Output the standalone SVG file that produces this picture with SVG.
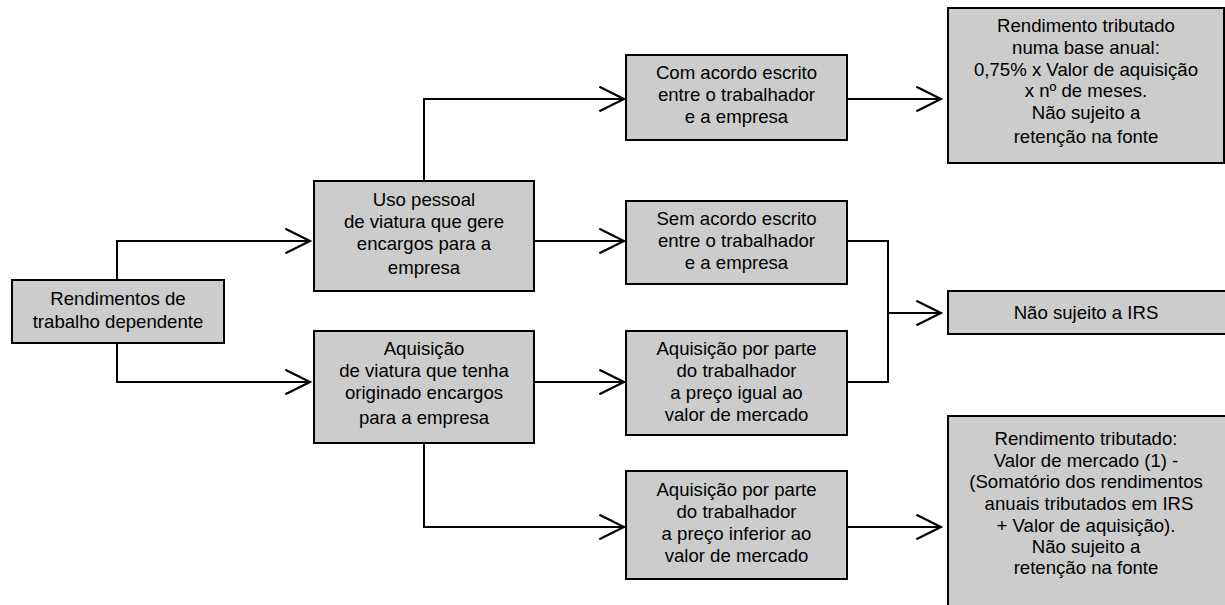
<svg xmlns="http://www.w3.org/2000/svg" width="1225" height="605" viewBox="0 0 1225 605">
<style>
.box{fill:#cccccc;stroke:#000;stroke-width:2}
.t{font-family:"Liberation Sans",Arial,sans-serif;font-size:18.6px;fill:#000;text-anchor:middle}
.c{fill:none;stroke:#000;stroke-width:2}
</style>
<defs>
<marker id="ah" markerUnits="userSpaceOnUse" markerWidth="30" markerHeight="30" viewBox="-26 -14 28 28" refX="0" refY="0" orient="auto" overflow="visible">
<path d="M-23,-11.5 L0,0 L-23,11.5" fill="none" stroke="#000" stroke-width="2"/>
</marker>
</defs>
<rect width="1225" height="605" fill="#fff"/>
<g id="connectors">
<path class="c" d="M117,280 V241 H310" marker-end="url(#ah)"/>
<path class="c" d="M117,343 V382 H310" marker-end="url(#ah)"/>
<path class="c" d="M424,181 V99 H624" marker-end="url(#ah)"/>
<path class="c" d="M534,241 H624" marker-end="url(#ah)"/>
<path class="c" d="M534,382 H624" marker-end="url(#ah)"/>
<path class="c" d="M424,443 V527 H624" marker-end="url(#ah)"/>
<path class="c" d="M847,99 H941" marker-end="url(#ah)"/>
<path class="c" d="M847,241 H888 V382 H847"/>
<path class="c" d="M888,313 H941" marker-end="url(#ah)"/>
<path class="c" d="M847,527 H941" marker-end="url(#ah)"/>
</g>
<g id="n-rendimentos">
<rect class="box" x="12" y="280" width="212" height="63"/>
<text class="t" x="118" y="305">Rendimentos de</text>
<text class="t" x="118" y="328">trabalho dependente</text>
</g>
<g id="n-uso">
<rect class="box" x="314" y="181" width="220" height="110"/>
<text class="t" x="424" y="206">Uso pessoal</text>
<text class="t" x="424" y="228">de viatura que gere</text>
<text class="t" x="424" y="250">encargos para a</text>
<text class="t" x="424" y="274">empresa</text>
</g>
<g id="n-aquisicao">
<rect class="box" x="314" y="331" width="220" height="112"/>
<text class="t" x="424" y="355">Aquisição</text>
<text class="t" x="424" y="377">de viatura que tenha</text>
<text class="t" x="424" y="399">originado encargos</text>
<text class="t" x="424" y="424">para a empresa</text>
</g>
<g id="n-com">
<rect class="box" x="626" y="55" width="221" height="85"/>
<text class="t" x="736.5" y="79">Com acordo escrito</text>
<text class="t" x="736.5" y="101">entre o trabalhador</text>
<text class="t" x="736.5" y="123">e a empresa</text>
</g>
<g id="n-sem">
<rect class="box" x="626" y="201" width="221" height="83"/>
<text class="t" x="736.5" y="225">Sem acordo escrito</text>
<text class="t" x="736.5" y="247">entre o trabalhador</text>
<text class="t" x="736.5" y="269">e a empresa</text>
</g>
<g id="n-igual">
<rect class="box" x="626" y="331" width="221" height="104"/>
<text class="t" x="736.5" y="355">Aquisição por parte</text>
<text class="t" x="736.5" y="377">do trabalhador</text>
<text class="t" x="736.5" y="399">a preço igual ao</text>
<text class="t" x="736.5" y="421">valor de mercado</text>
</g>
<g id="n-inferior">
<rect class="box" x="626" y="471" width="221" height="108"/>
<text class="t" x="736.5" y="496">Aquisição por parte</text>
<text class="t" x="736.5" y="518">do trabalhador</text>
<text class="t" x="736.5" y="540">a preço inferior ao</text>
<text class="t" x="736.5" y="562">valor de mercado</text>
</g>
<g id="n-tributado-anual">
<rect class="box" x="948" y="8" width="276" height="155"/>
<text class="t" x="1086" y="32">Rendimento tributado</text>
<text class="t" x="1086" y="54">numa base anual:</text>
<text class="t" x="1086" y="76">0,75% x Valor de aquisição</text>
<text class="t" x="1086" y="97">x nº de meses.</text>
<text class="t" x="1086" y="119">Não sujeito a</text>
<text class="t" x="1086" y="143">retenção na fonte</text>
</g>
<g id="n-nao-irs">
<rect class="box" x="948" y="291" width="278" height="43"/>
<text class="t" x="1086" y="319">Não sujeito a IRS</text>
</g>
<g id="n-tributado">
<rect class="box" x="948" y="416" width="280" height="195"/>
<text class="t" x="1086" y="445">Rendimento tributado:</text>
<text class="t" x="1086" y="467">Valor de mercado (1) -</text>
<text class="t" x="1086" y="488">(Somatório dos rendimentos</text>
<text class="t" x="1089" y="510">anuais tributados em IRS</text>
<text class="t" x="1086" y="532">+ Valor de aquisição).</text>
<text class="t" x="1086" y="553">Não sujeito a</text>
<text class="t" x="1086" y="574">retenção na fonte</text>
</g>
</svg>
